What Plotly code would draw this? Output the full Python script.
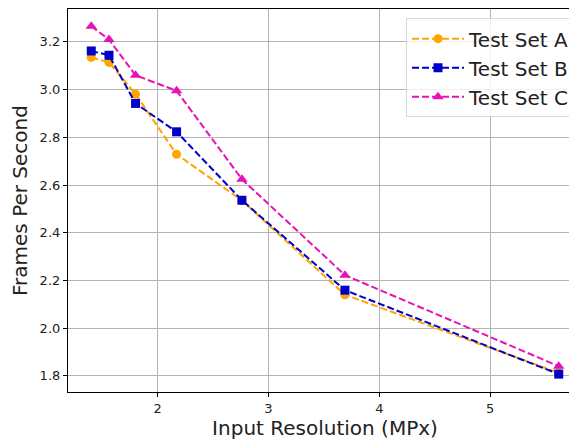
import plotly.graph_objects as go

resolution = [1.40, 1.56, 1.80, 2.17, 2.76, 3.69, 5.62]
set_a = [3.135, 3.114, 2.981, 2.729, 2.535, 2.140, 1.812]
set_b = [3.162, 3.144, 2.942, 2.823, 2.536, 2.159, 1.807]
set_c = [3.266, 3.210, 3.060, 2.995, 2.624, 2.222, 1.840]
series_names = ["Test Set A", "Test Set B", "Test Set C"]
x_ticks = [2, 3, 4, 5]
y_ticks = [1.8, 2.0, 2.2, 2.4, 2.6, 2.8, 3.0, 3.2]

colors = ["#ffa500", "#0000c8", "#e513b7"]
symbols = ["circle", "square", "triangle-up"]
sizes = [9, 9, 10]

fig = go.Figure()
for name, vals, c, s, sz in zip(series_names, [set_a, set_b, set_c], colors, symbols, sizes):
    fig.add_trace(go.Scatter(
        x=resolution, y=vals, name=name, mode="lines+markers",
        line=dict(color=c, width=2, dash="7px,3px"),
        marker=dict(color=c, symbol=s, size=sz),
    ))

font = "DejaVu Sans, Verdana, sans-serif"
fig.update_layout(
    width=577, height=440,
    margin=dict(l=60, r=3, t=1, b=56, autoexpand=False),
    paper_bgcolor="white", plot_bgcolor="white",
    font=dict(family=font, color="#222222"),
    showlegend=True,
    legend=dict(
        x=0.9864, y=0.976, xanchor="right", yanchor="top",
        font=dict(size=20, color="#222222"),
        bgcolor="rgba(255,255,255,0.8)", bordercolor="#d8d8d8", borderwidth=1,
        tracegroupgap=0, itemwidth=52,
    ),
    xaxis=dict(
        range=[1.19, 5.83], tickvals=x_ticks, automargin=False,
        showgrid=True, gridcolor="#b4b4b4", gridwidth=1.3,
        showline=True, linecolor="black", linewidth=1.2, mirror=True,
        ticks="outside", ticklen=4, tickcolor="black",
        tickfont=dict(size=13), zeroline=False,
        title=dict(text="Input Resolution (MPx)", font=dict(size=20), standoff=6),
    ),
    yaxis=dict(
        range=[1.732, 3.338], tickvals=y_ticks, tickformat=".1f", automargin=False,
        showgrid=True, gridcolor="#b4b4b4", gridwidth=1.3,
        showline=True, linecolor="black", linewidth=1.2, mirror=False,
        ticks="outside", ticklen=4, tickcolor="black",
        tickfont=dict(size=13), zeroline=False,
        title=dict(text="Frames Per Second", font=dict(size=20), standoff=6),
    ),
)

fig.write_html("out.html")
